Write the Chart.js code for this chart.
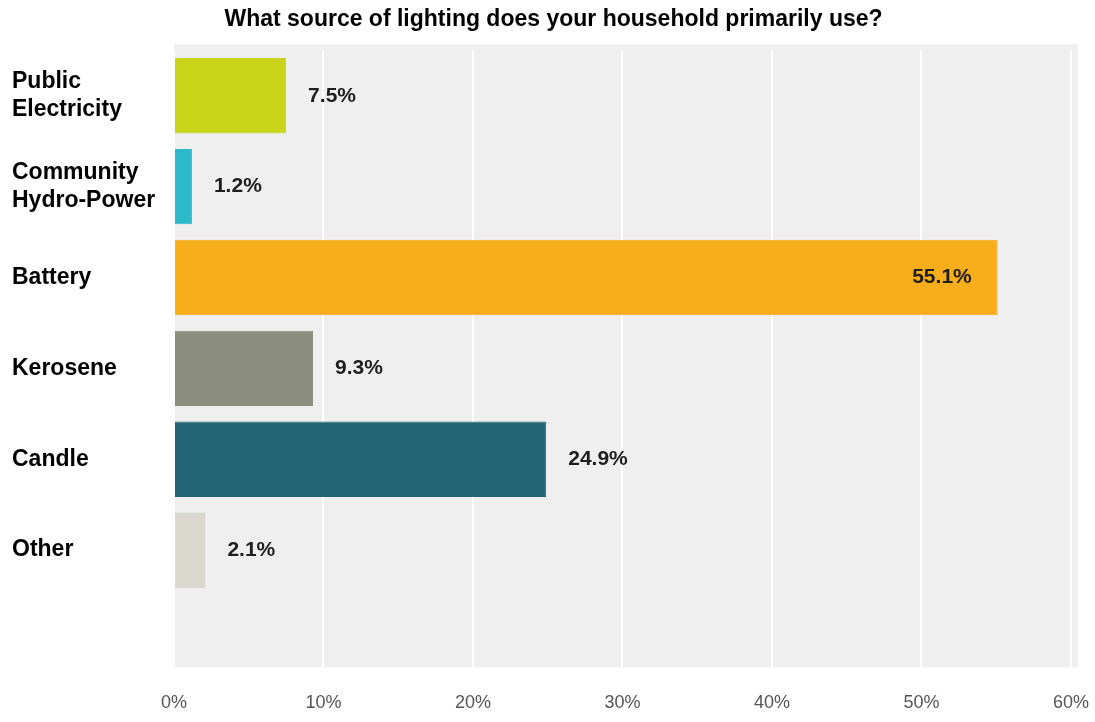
<!DOCTYPE html>
<html>
<head>
<meta charset="utf-8">
<script src="https://cdn.jsdelivr.net/npm/chart.js@4"></script>
<style>
  html, body { margin: 0; padding: 0; background: #ffffff; }
  #wrap { width: 1095px; height: 722px; position: relative; }
</style>
</head>
<body>
<div id="wrap"><canvas id="c" width="1095" height="722"></canvas></div>
<script>
const titleText = 'What source of lighting does your household primarily use?';
const categories = [['Public', 'Electricity'], ['Community', 'Hydro-Power'], 'Battery', 'Kerosene', 'Candle', 'Other', ''];
const values = [7.5, 1.2, 55.1, 9.3, 24.9, 2.1, null];
const valueLabels = ['7.5%', '1.2%', '55.1%', '9.3%', '24.9%', '2.1%', ''];
const barColors = ['#c9d31a', '#2cb9ca', '#f8ad1b', '#8b8d7d', '#246474', '#d9d7ce', '#ffffff'];
const xTickValues = [0, 10, 20, 30, 40, 50, 60];

const bgPlugin = {
  id: 'plotBg',
  beforeDraw(chart) {
    const { ctx, chartArea } = chart;
    ctx.save();
    ctx.fillStyle = '#efefef';
    ctx.fillRect(chartArea.left, chartArea.top - 6, chartArea.right - chartArea.left + 7, chartArea.bottom - chartArea.top - 13);
    ctx.restore();
  }
};

const valuePlugin = {
  id: 'valueLabels',
  afterDatasetsDraw(chart) {
    const { ctx } = chart;
    const meta = chart.getDatasetMeta(0);
    ctx.save();
    ctx.font = 'bold 21px "Liberation Sans", Arial, sans-serif';
    ctx.fillStyle = '#1e1e1e';
    ctx.textBaseline = 'middle';
    meta.data.forEach((bar, i) => {
      const lbl = valueLabels[i];
      if (!lbl) return;
      if (values[i] > 40) {
        ctx.textAlign = 'right';
        ctx.fillText(lbl, bar.x - 26, bar.y);
      } else {
        ctx.textAlign = 'left';
        ctx.fillText(lbl, bar.x + 22, bar.y);
      }
    });
    ctx.restore();
  }
};

new Chart(document.getElementById('c'), {
  type: 'bar',
  data: {
    labels: categories,
    datasets: [{
      data: values,
      backgroundColor: barColors,
      borderColor: barColors.map((c, i) => i === 5 ? '#c8c6bc' : c),
      borderWidth: 1,
      barPercentage: 0.83,
      categoryPercentage: 1.0
    }]
  },
  options: {
    indexAxis: 'y',
    responsive: false,
    animation: false,
    devicePixelRatio: 1,
    layout: { padding: { left: 12, right: 0, top: 0, bottom: 0 } },
    plugins: {
      legend: { display: false },
      tooltip: { enabled: false },
      title: {
        display: true,
        text: titleText,
        color: '#000000',
        font: { family: '"Liberation Sans", Arial, sans-serif', size: 23, weight: 'bold', lineHeight: 1.1 },
        padding: { top: 7, bottom: 18 }
      }
    },
    scales: {
      x: {
        min: 0,
        max: 60,
        afterBuildTicks(scale) {
          scale.ticks = xTickValues.map(v => ({ value: v }));
        },
        ticks: {
          color: '#555555',
          font: { family: '"Liberation Sans", Arial, sans-serif', size: 18 },
          padding: 6,
          maxRotation: 0,
          callback: v => v + '%'
        },
        grid: { color: '#ffffff', lineWidth: 2, drawTicks: false },
        border: { display: false }
      },
      y: {
        afterFit(scale) { scale.width = 162; },
        ticks: {
          crossAlign: 'far',
          color: '#000000',
          font: { family: '"Liberation Sans", Arial, sans-serif', size: 23, weight: 'bold', lineHeight: 1.2 },
          padding: 8
        },
        grid: { display: false, drawTicks: false },
        border: { display: false }
      }
    }
  },
  plugins: [bgPlugin, valuePlugin]
});
</script>
</body>
</html>
